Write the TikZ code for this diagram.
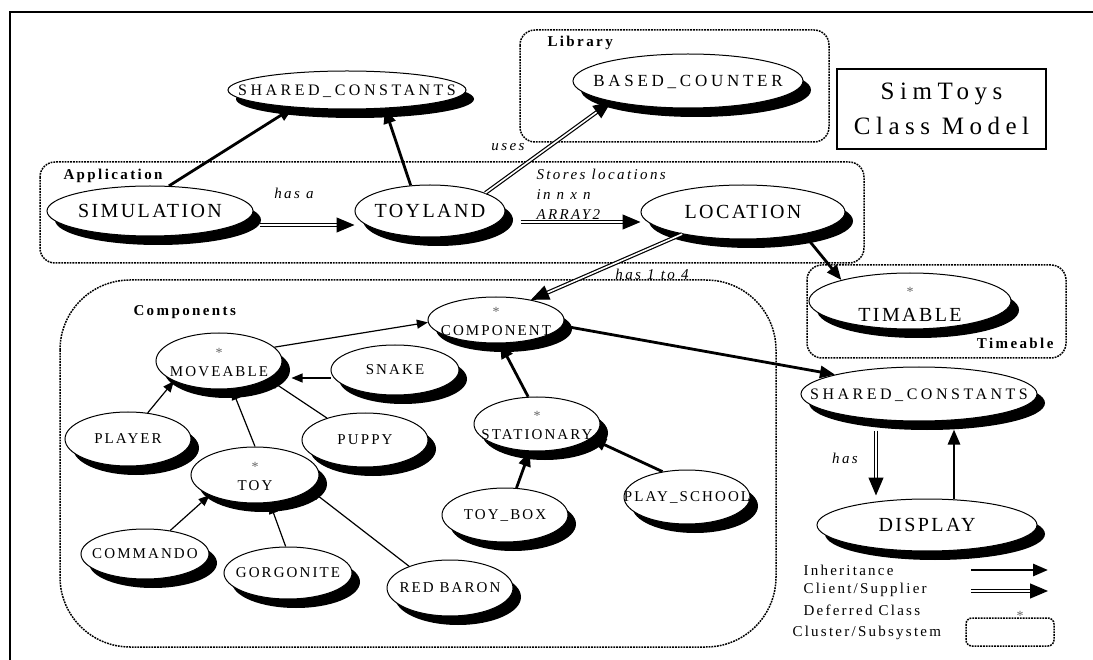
\documentclass[tikz,border=0pt]{standalone}
\usepackage{fontspec}
\setmainfont{Liberation Serif}
\usetikzlibrary{shapes.geometric,shadows,arrows.meta}

\newcommand\clsname[1]{\makebox[0pt]{\raisebox{-0.33em}[0pt][0pt]{#1}}}
\newcommand\defname[1]{\makebox[0pt]{\raisebox{-1.03em}[0pt][0pt]{#1}}%
  \makebox[0pt]{\raisebox{0.2em}[0pt][0pt]{\color{black!60}\fontsize{14}{14}\selectfont*}}}

\tikzset{
  cls/.style={ellipse, draw, fill=white, line width=1pt, inner sep=0pt,
    drop shadow={shadow xshift=8pt, shadow yshift=-9pt, fill=black, opacity=1}},
  bigcls/.style={cls, font=\fontsize{20}{24}\selectfont\addfontfeature{LetterSpace=12}},
  midcls/.style={cls, font=\fontsize{16}{19}\selectfont\addfontfeature{LetterSpace=22}},
  smallcls/.style={cls, font=\fontsize{15}{18}\selectfont\addfontfeature{LetterSpace=14}},
  cluster/.style={line width=1.5pt, dash pattern=on 1.8pt off 1pt, rounded corners=15pt},
  clustername/.style={font=\fontsize{15}{18}\selectfont\bfseries\addfontfeature{LetterSpace=16}},
  note/.style={font=\fontsize{15}{20}\selectfont\itshape\addfontfeature{LetterSpace=16}},
  legendtext/.style={anchor=west, font=\fontsize{15}{18}\selectfont\addfontfeature{LetterSpace=15}},
  defmark/.style={text=black!60, font=\fontsize{14}{14}\selectfont, inner sep=0pt},
  inherit/.style={line width=2.8pt, -{Triangle[length=15pt,width=12pt]}},
  thininherit/.style={line width=1.2pt, -{Triangle[length=11pt,width=9pt]}},
  client/.style={double, line width=1.2pt, double distance=1.6pt, -{Triangle[length=18pt,width=15pt]}},
}

\begin{document}
\begin{tikzpicture}[x=1pt,y=-1pt]
\useasboundingbox (0,0) rectangle (1093,660);

% page frame
\draw[line width=2pt] (10,660) -- (10,12) -- (1093,12);

% clusters
\draw[cluster] (520,30) rectangle (829,142);
\node[clustername, anchor=west] (libname) at (544,43) {Library};
\draw[cluster] (40,162) rectangle (864,263);
\node[clustername, anchor=west] (appname) at (60,176) {Application};
\draw[cluster, rounded corners=70pt] (60,280) rectangle (776,647);
\node[clustername, anchor=west] (compname) at (130,312) {Components};
\draw[cluster] (807,265) rectangle (1066,358);
\node[clustername, anchor=east] (timename) at (1057,343) {Timeable};

% title
\node[draw, line width=1.5pt, minimum width=209pt, minimum height=80pt, inner sep=0pt,
  align=center, font=\fontsize{25}{35}\selectfont\addfontfeature{LetterSpace=22}]
  (title) at (941.5,109) {SimToys\\Class Model};

% classes
\node[midcls, minimum width=238pt, minimum height=38pt] (shtop) at (347,90) {\clsname{SHARED\_CONSTANTS}};
\node[midcls, minimum width=230pt, minimum height=54pt,
  font=\fontsize{17}{20}\selectfont\addfontfeature{LetterSpace=22}] (based) at (688,81) {\clsname{BASED\_COUNTER}};
\node[bigcls, minimum width=206pt, minimum height=50pt] (sim) at (150,211) {\clsname{SIMULATION}};
\node[bigcls, minimum width=150pt, minimum height=52pt] (toyland) at (430,211) {\clsname{TOYLAND}};
\node[bigcls, minimum width=204pt, minimum height=54pt] (location) at (743,212) {\clsname{LOCATION}};
\node[bigcls, minimum width=202pt, minimum height=56pt] (timable) at (910,301) {\defname{TIMABLE}};
\node[midcls, minimum width=236pt, minimum height=54pt] (shright) at (919,394) {\clsname{SHARED\_CONSTANTS}};
\node[bigcls, minimum width=220pt, minimum height=52pt] (display) at (927,525) {\clsname{DISPLAY}};

\node[smallcls, minimum width=136pt, minimum height=46pt] (component) at (496,320) {\defname{COMPONENT}};
\node[smallcls, minimum width=126pt, minimum height=56pt] (moveable) at (219,361) {\defname{MOVEABLE}};
\node[smallcls, minimum width=128pt, minimum height=50pt] (snake) at (395,370) {\clsname{SNAKE}};
\node[smallcls, minimum width=126pt, minimum height=54pt] (player) at (128,439) {\clsname{PLAYER}};
\node[smallcls, minimum width=126pt, minimum height=54pt] (puppy) at (365,440) {\clsname{PUPPY}};
\node[smallcls, minimum width=128pt, minimum height=56pt] (toy) at (255,475) {\defname{TOY}};
\node[smallcls, minimum width=128pt, minimum height=50pt] (commando) at (145,554) {\clsname{COMMANDO}};
\node[smallcls, minimum width=128pt, minimum height=52pt] (gorgonite) at (288,573) {\clsname{GORGONITE}};
\node[smallcls, minimum width=126pt, minimum height=56pt] (redbaron) at (450,588) {\clsname{RED BARON}};
\node[smallcls, minimum width=126pt, minimum height=54pt] (stationary) at (537,424) {\defname{STATIONARY}};
\node[smallcls, minimum width=126pt, minimum height=54pt] (toybox) at (505,515) {\clsname{TOY\_BOX}};
\node[smallcls, minimum width=126pt, minimum height=54pt] (playschool) at (687,497) {\clsname{PLAY\_SCHOOL}};

% relations
\draw[inherit] (sim.53) -- (shtop.198);
\draw[inherit] (toyland.127) -- (shtop.334);
\draw[client, shorten <=6pt] ([yshift=-14pt]sim.east) -- ([yshift=-14pt]toyland.west);
\node[note] (hasa) at (294,193) {has a};
\draw[client] (toyland.18) -- (based.195);
\node[note] (uses) at (508,147) {uses};
\draw[client, shorten <=15pt] ([yshift=-11pt]toyland.east) -- ([yshift=-10pt]location.west);
\node[note, align=left, anchor=west] (stores) at (533,195) {Stores locations\\in n x n\\\underline{ARRAY2}};
\draw[client] (location.200) -- (component.30);
\node[note] (has14) at (652,274) {has 1 to 4};
\draw[inherit] (location.340) -- (timable.163);
\draw[inherit] (component.-5) -- (shright.167);
\draw[client, shorten <=9pt, shorten >=3pt] ([xshift=-43pt]shright.south) -- ([xshift=-51pt]display.north);
\node[note] (has) at (845,458) {has};
\draw[inherit, shorten >=8pt] ([xshift=27pt]display.north) -- ([xshift=35pt]shright.south);

\draw[thininherit] (moveable.14) -- (component.182);
\draw[thininherit] ([yshift=-8pt]snake.west) -- ([xshift=9pt,yshift=-17pt]moveable.east);
\draw[thininherit] (player.53) -- (moveable.204);
\draw[thininherit] (puppy.150) -- (moveable.-20);
\draw[thininherit] (toy.north) -- (moveable.-65);
\draw[thininherit] (commando.43) -- (toy.204);
\draw[thininherit] (gorgonite.95) -- (toy.298);
\draw[thininherit] (redbaron.152) -- (toy.-15);
\draw[inherit] (stationary.108) -- (component.-80);
\draw[inherit] (toybox.67) -- (stationary.255);
\draw[inherit] (playschool.134) -- (stationary.-15);

% legend
\node[legendtext] (leginh) at (800,570) {Inheritance};
\node[legendtext] (legcs) at (800,590) {Client/Supplier};
\node[legendtext] (legdef) at (800,610) {Deferred Class};
\node[legendtext] (legclu) at (789,633) {Cluster/Subsystem};
\coordinate (inhA) at (971,570);
\coordinate (inhB) at (1048,570);
\draw[inherit] (inhA) -- (inhB);
\coordinate (csA) at (971,591);
\coordinate (csB) at (1048,591);
\draw[client] (csA) -- (csB);
\draw[cluster, rounded corners=6pt] (966,618) rectangle (1054,646);
\node[defmark] (legstar) at (1020,616) {*};

\end{tikzpicture}
\end{document}
